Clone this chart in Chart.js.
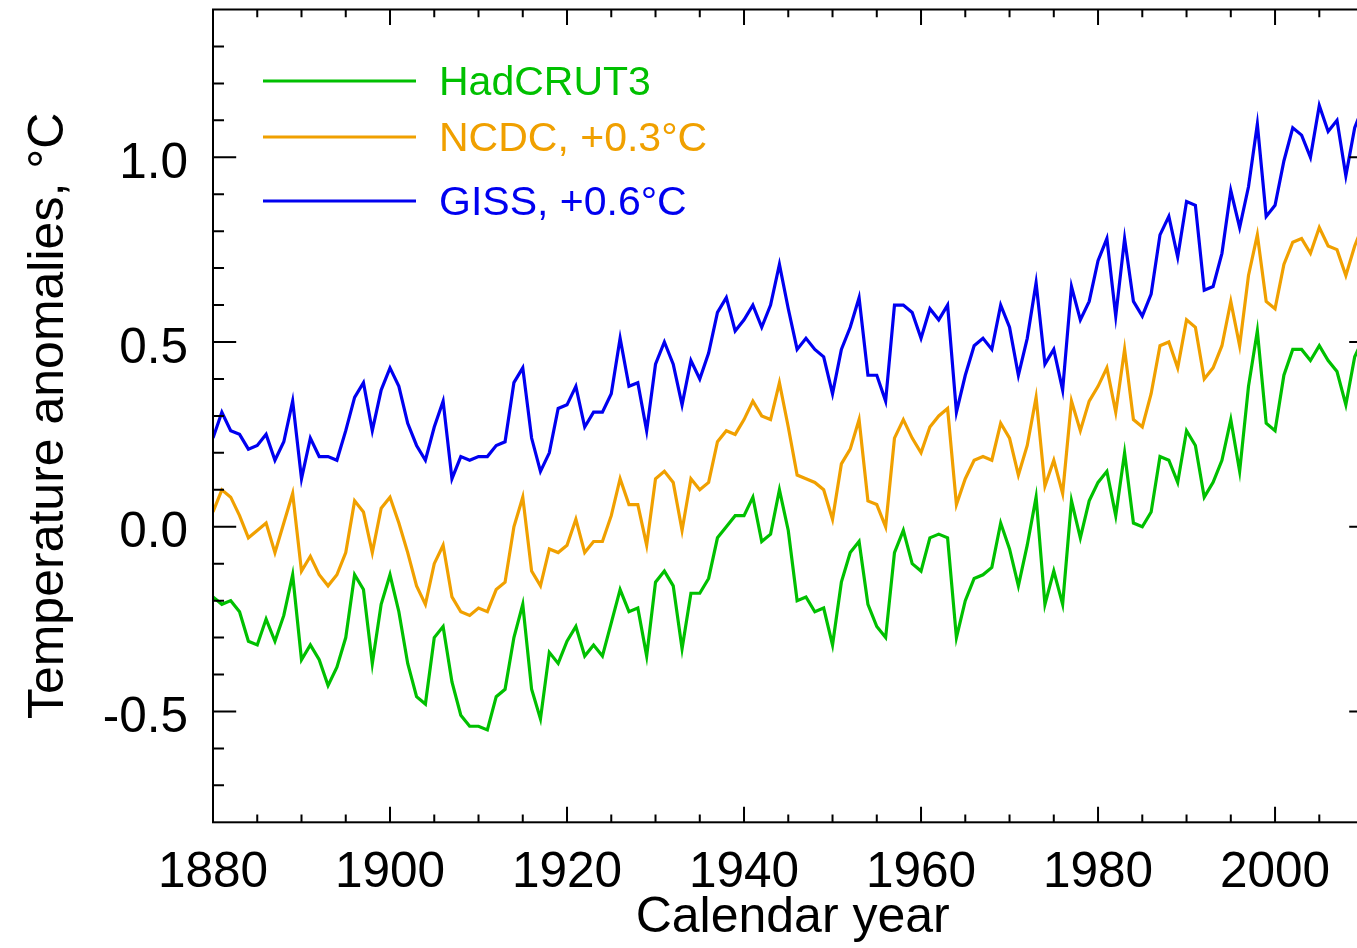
<!DOCTYPE html>
<html>
<head>
<meta charset="utf-8">
<script src="https://cdn.jsdelivr.net/npm/chart.js@4.4.1/dist/chart.umd.min.js"></script>
<style>
  html, body { margin: 0; padding: 0; overflow: hidden; background: #fff; }
  #wrap { width: 1390px; height: 948px; }
</style>
</head>
<body>
<div id="wrap"><canvas id="chart" width="1390" height="948"></canvas></div>
<script>
// Annual global temperature anomalies, 1880-2010 (NCDC and GISS shifted up)
const years = [
  1880, 1881, 1882, 1883, 1884, 1885, 1886, 1887, 1888, 1889,
  1890, 1891, 1892, 1893, 1894, 1895, 1896, 1897, 1898, 1899,
  1900, 1901, 1902, 1903, 1904, 1905, 1906, 1907, 1908, 1909,
  1910, 1911, 1912, 1913, 1914, 1915, 1916, 1917, 1918, 1919,
  1920, 1921, 1922, 1923, 1924, 1925, 1926, 1927, 1928, 1929,
  1930, 1931, 1932, 1933, 1934, 1935, 1936, 1937, 1938, 1939,
  1940, 1941, 1942, 1943, 1944, 1945, 1946, 1947, 1948, 1949,
  1950, 1951, 1952, 1953, 1954, 1955, 1956, 1957, 1958, 1959,
  1960, 1961, 1962, 1963, 1964, 1965, 1966, 1967, 1968, 1969,
  1970, 1971, 1972, 1973, 1974, 1975, 1976, 1977, 1978, 1979,
  1980, 1981, 1982, 1983, 1984, 1985, 1986, 1987, 1988, 1989,
  1990, 1991, 1992, 1993, 1994, 1995, 1996, 1997, 1998, 1999,
  2000, 2001, 2002, 2003, 2004, 2005, 2006, 2007, 2008, 2009,
  2010
];

const hadcrut3 = [
  -0.19, -0.21, -0.20, -0.23, -0.31, -0.32, -0.25, -0.31, -0.24, -0.13,
  -0.36, -0.32, -0.36, -0.43, -0.38, -0.30, -0.13, -0.17, -0.37, -0.21,
  -0.13, -0.23, -0.37, -0.46, -0.48, -0.30, -0.27, -0.42, -0.51, -0.54,
  -0.54, -0.55, -0.46, -0.44, -0.30, -0.21, -0.44, -0.52, -0.34, -0.37,
  -0.31, -0.27, -0.35, -0.32, -0.35, -0.26, -0.17, -0.23, -0.22, -0.35,
  -0.15, -0.12, -0.16, -0.33, -0.18, -0.18, -0.14, -0.03, 0.00, 0.03,
  0.03, 0.08, -0.04, -0.02, 0.10, -0.01, -0.20, -0.19, -0.23, -0.22,
  -0.32, -0.15, -0.07, -0.04, -0.21, -0.27, -0.30, -0.07, -0.01, -0.10,
  -0.12, -0.03, -0.02, -0.03, -0.30, -0.20, -0.14, -0.13, -0.11, 0.01,
  -0.06, -0.16, -0.05, 0.08, -0.21, -0.12, -0.21, 0.07, -0.03, 0.07,
  0.12, 0.15, 0.03, 0.20, 0.01, 0.00, 0.04, 0.19, 0.18, 0.12,
  0.26, 0.22, 0.08, 0.12, 0.18, 0.29, 0.15, 0.38, 0.53, 0.28,
  0.26, 0.41, 0.48, 0.48, 0.45, 0.49, 0.45, 0.42, 0.33, 0.46,
  0.51
];

const ncdc = [
  0.04, 0.10, 0.08, 0.03, -0.03, -0.01, 0.01, -0.07, 0.01, 0.09,
  -0.12, -0.08, -0.13, -0.16, -0.13, -0.07, 0.07, 0.04, -0.07, 0.05,
  0.08, 0.01, -0.07, -0.16, -0.21, -0.10, -0.05, -0.19, -0.23, -0.24,
  -0.22, -0.23, -0.17, -0.15, 0.00, 0.08, -0.12, -0.16, -0.06, -0.07,
  -0.05, 0.02, -0.07, -0.04, -0.04, 0.03, 0.13, 0.06, 0.06, -0.05,
  0.13, 0.15, 0.12, -0.01, 0.13, 0.10, 0.12, 0.23, 0.26, 0.25,
  0.29, 0.34, 0.30, 0.29, 0.39, 0.27, 0.14, 0.13, 0.12, 0.10,
  0.02, 0.17, 0.21, 0.29, 0.07, 0.06, 0.00, 0.24, 0.29, 0.24,
  0.20, 0.27, 0.30, 0.32, 0.06, 0.13, 0.18, 0.19, 0.18, 0.28,
  0.24, 0.14, 0.22, 0.35, 0.11, 0.18, 0.09, 0.34, 0.26, 0.34,
  0.38, 0.43, 0.31, 0.48, 0.29, 0.27, 0.36, 0.49, 0.50, 0.43,
  0.56, 0.54, 0.40, 0.43, 0.49, 0.61, 0.49, 0.68, 0.79, 0.61,
  0.59, 0.71, 0.77, 0.78, 0.74, 0.81, 0.76, 0.75, 0.68, 0.76,
  0.82
];

const giss = [
  0.24, 0.31, 0.26, 0.25, 0.21, 0.22, 0.25, 0.18, 0.23, 0.34,
  0.13, 0.24, 0.19, 0.19, 0.18, 0.26, 0.35, 0.39, 0.26, 0.37,
  0.43, 0.38, 0.28, 0.22, 0.18, 0.27, 0.34, 0.13, 0.19, 0.18,
  0.19, 0.19, 0.22, 0.23, 0.39, 0.43, 0.24, 0.15, 0.20, 0.32,
  0.33, 0.38, 0.27, 0.31, 0.31, 0.36, 0.51, 0.38, 0.39, 0.26,
  0.44, 0.50, 0.44, 0.33, 0.45, 0.40, 0.47, 0.58, 0.62, 0.53,
  0.56, 0.60, 0.54, 0.60, 0.71, 0.59, 0.48, 0.51, 0.48, 0.46,
  0.36, 0.48, 0.54, 0.62, 0.41, 0.41, 0.34, 0.60, 0.60, 0.58,
  0.51, 0.59, 0.56, 0.60, 0.31, 0.41, 0.49, 0.51, 0.48, 0.60,
  0.54, 0.41, 0.51, 0.66, 0.44, 0.48, 0.37, 0.65, 0.56, 0.61,
  0.72, 0.78, 0.57, 0.78, 0.61, 0.57, 0.63, 0.79, 0.84, 0.73,
  0.88, 0.87, 0.64, 0.65, 0.74, 0.91, 0.81, 0.92, 1.09, 0.84,
  0.87, 0.99, 1.08, 1.06, 1.00, 1.14, 1.07, 1.10, 0.95, 1.08,
  1.14
];

const seriesNames = ['HadCRUT3', 'NCDC, +0.3\u00B0C', 'GISS, +0.6\u00B0C'];
const seriesColors = ['#00C000', '#F0A000', '#0000F0'];

const xTickYears = [1880, 1900, 1920, 1940, 1960, 1980, 2000];
const xMinorYears = [1880, 1885, 1890, 1895, 1900, 1905, 1910, 1915, 1920, 1925,
  1930, 1935, 1940, 1945, 1950, 1955, 1960, 1965, 1970, 1975, 1980, 1985,
  1990, 1995, 2000, 2005, 2010];
const yTickValues = [-0.5, 0.0, 0.5, 1.0];
const yMinorValues = [-0.7, -0.6, -0.5, -0.4, -0.3, -0.2, -0.1, 0.0, 0.1, 0.2,
  0.3, 0.4, 0.5, 0.6, 0.7, 0.8, 0.9, 1.0, 1.1, 1.2, 1.3];

const FONT = "'Liberation Sans', Arial, Helvetica, sans-serif";

function toPoints(values) {
  return values.map((v, i) => ({ x: years[i], y: v }));
}

// box with inward ticks on all four sides, IDL style
const frameTicks = {
  id: 'frameTicks',
  afterDatasetsDraw(chart) {
    const { ctx, chartArea: a, scales: { x, y } } = chart;
    const w = a.right - a.left, h = a.bottom - a.top;
    ctx.save();
    ctx.strokeStyle = '#000';
    ctx.lineWidth = 2;
    ctx.beginPath();
    xMinorYears.forEach(v => {
      const px = x.getPixelForValue(v);
      const len = (xTickYears.includes(v) ? 0.019 : 0.0095) * h;
      ctx.moveTo(px, a.bottom); ctx.lineTo(px, a.bottom - len);
      ctx.moveTo(px, a.top); ctx.lineTo(px, a.top + len);
    });
    yMinorValues.forEach(v => {
      const py = y.getPixelForValue(v);
      const major = yTickValues.some(t => Math.abs(t - v) < 1e-6);
      const len = (major ? 0.02 : 0.0095) * w;
      ctx.moveTo(a.left, py); ctx.lineTo(a.left + len, py);
      ctx.moveTo(a.right, py); ctx.lineTo(a.right - len, py);
    });
    ctx.stroke();
    ctx.strokeRect(a.left, a.top, w, h);
    ctx.restore();
  }
};

// legend inside the plot: line sample then coloured label
const insideLegend = {
  id: 'insideLegend',
  afterDatasetsDraw(chart) {
    const { ctx } = chart;
    const rows = [81, 137, 201];
    ctx.save();
    ctx.font = '41px ' + FONT;
    ctx.textBaseline = 'middle';
    ctx.lineWidth = 3;
    seriesNames.forEach((name, i) => {
      ctx.strokeStyle = seriesColors[i];
      ctx.beginPath();
      ctx.moveTo(263, rows[i]);
      ctx.lineTo(416, rows[i]);
      ctx.stroke();
      ctx.fillStyle = seriesColors[i];
      ctx.fillText(name, 439, rows[i] + 3);
    });
    ctx.restore();
  }
};

new Chart(document.getElementById('chart'), {
  type: 'line',
  data: {
    datasets: [hadcrut3, ncdc, giss].map((vals, i) => ({
      label: seriesNames[i],
      data: toPoints(vals),
      borderColor: seriesColors[i],
      borderWidth: 3.2,
      pointRadius: 0,
      tension: 0,
      fill: false
    }))
  },
  options: {
    responsive: false,
    animation: false,
    layout: { padding: { top: 9.5, right: 17.6, left: 0, bottom: 0 } },
    plugins: {
      legend: { display: false },
      tooltip: { enabled: false }
    },
    scales: {
      x: {
        type: 'linear',
        min: 1880,
        max: 2011,
        grid: { display: false },
        border: { display: false },
        afterBuildTicks: s => { s.ticks = xTickYears.map(v => ({ value: v })); },
        afterFit: s => { s.height = 125.7; s.paddingLeft = 0; s.paddingRight = 0; },
        ticks: {
          color: '#000',
          font: { family: FONT, size: 49.5 },
          padding: 13,
          maxRotation: 0,
          autoSkip: false,
          callback: v => String(v)
        },
        title: {
          display: true,
          text: 'Calendar year',
          color: '#000',
          font: { family: FONT, size: 50, lineHeight: 1.2 },
          padding: { top: 0, bottom: 0 }
        }
      },
      y: {
        min: -0.8,
        max: 1.4,
        grid: { display: false },
        border: { display: false },
        afterBuildTicks: s => { s.ticks = yTickValues.map(v => ({ value: v })); },
        afterFit: s => { s.width = 213; s.paddingTop = 0; s.paddingBottom = 0; },
        ticks: {
          color: '#000',
          font: { family: FONT, size: 49.5 },
          padding: 17,
          labelOffset: 7,
          callback: v => v.toFixed(1)
        },
        title: {
          display: true,
          text: 'Temperature anomalies, \u00B0C',
          color: '#000',
          font: { family: FONT, size: 50, lineHeight: 1.2 },
          padding: { top: 19, bottom: 0 }
        }
      }
    }
  },
  plugins: [frameTicks, insideLegend]
});
</script>
</body>
</html>
